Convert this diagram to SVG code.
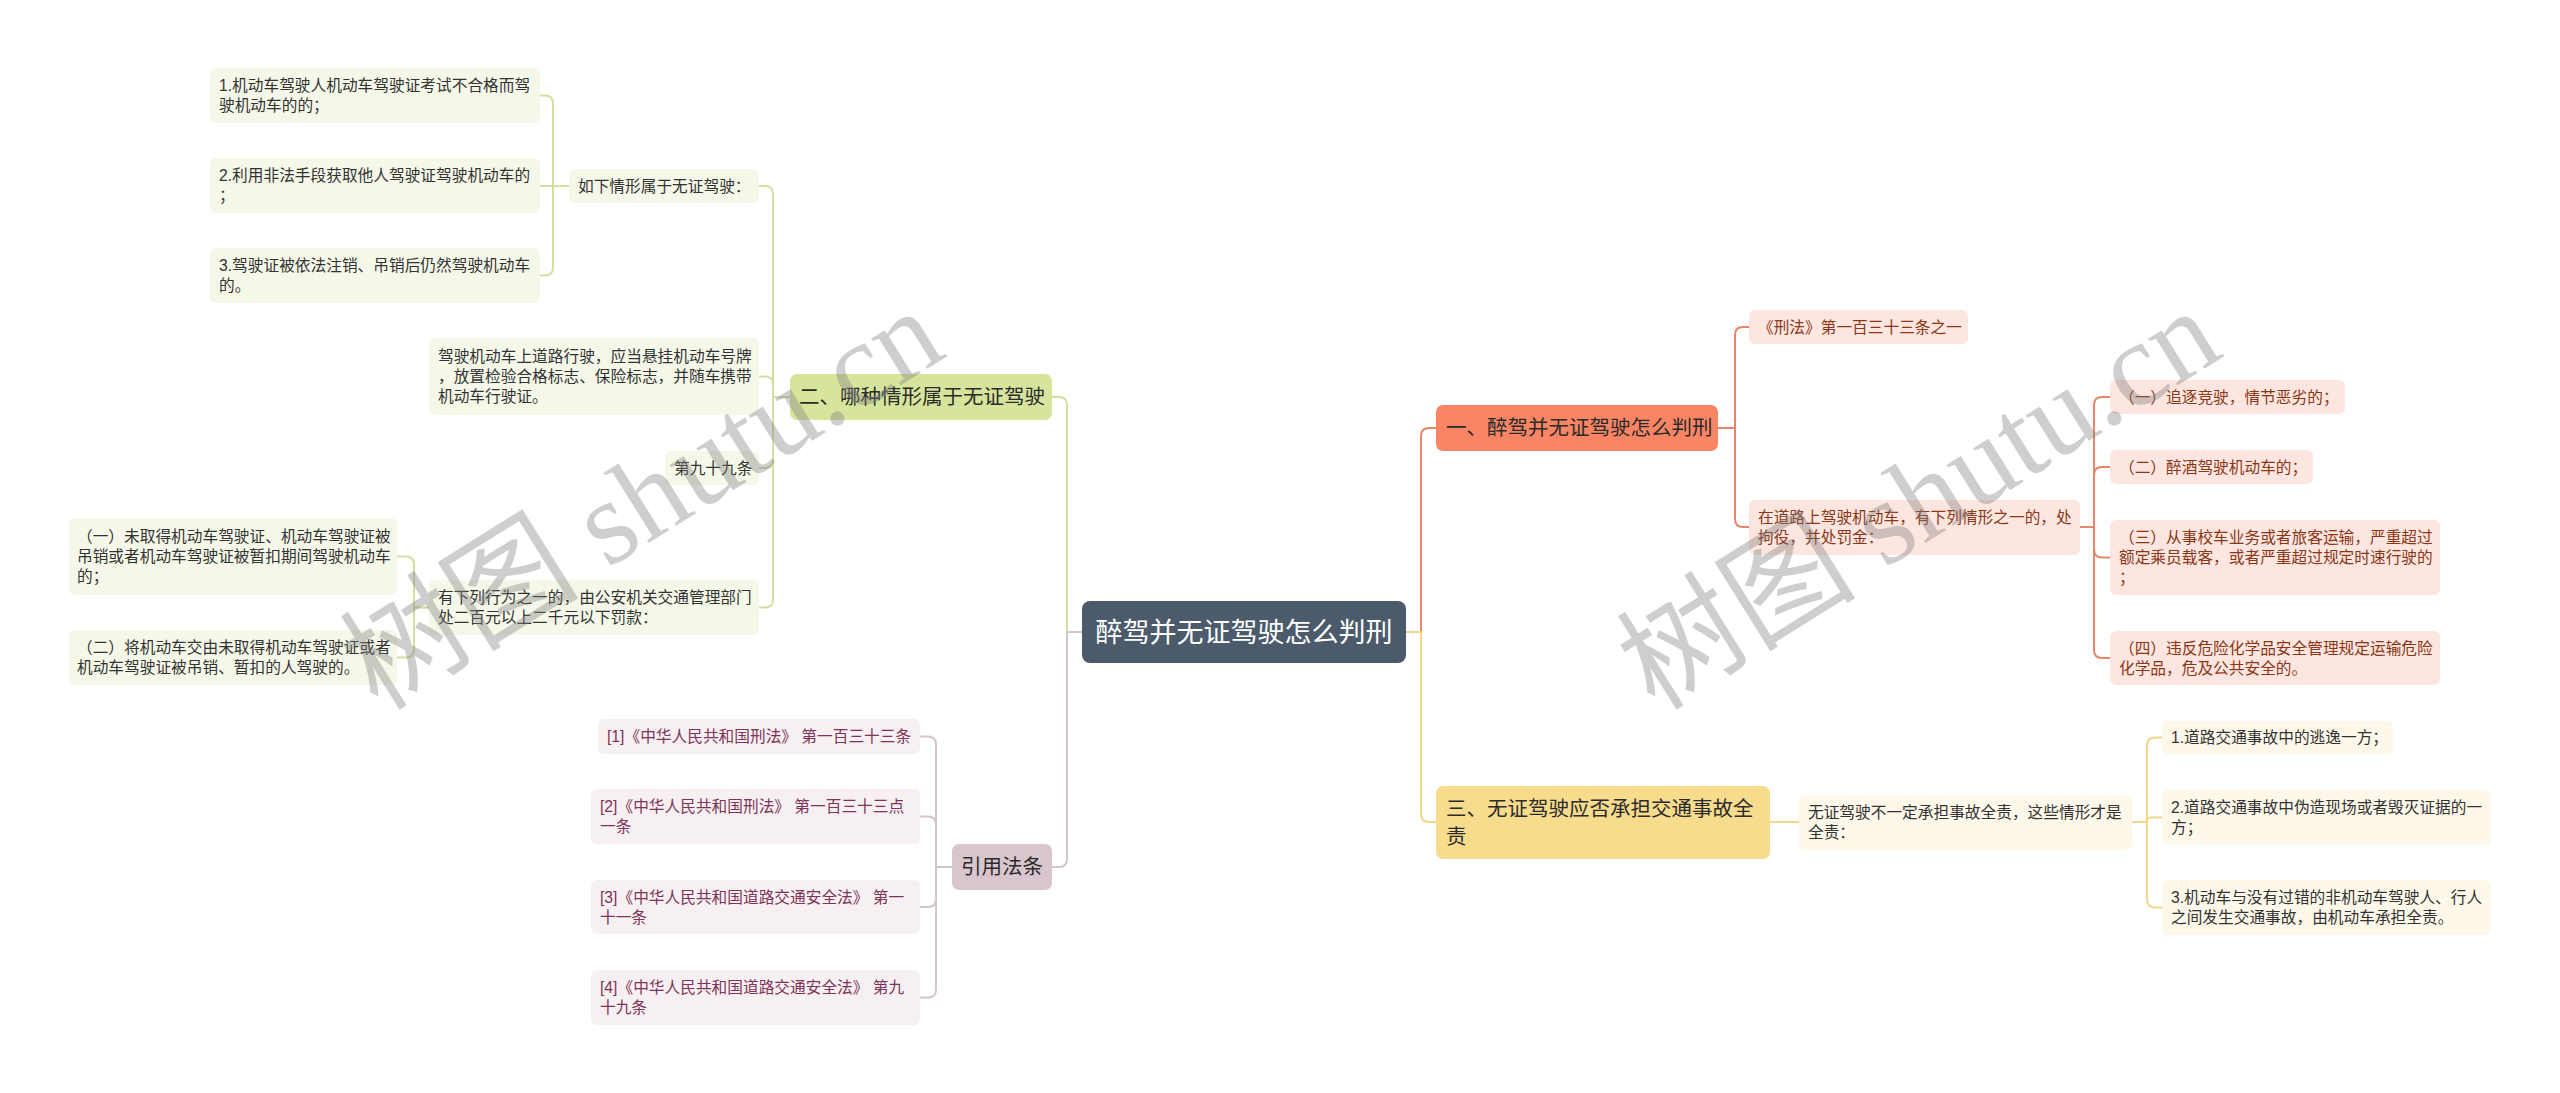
<svg xmlns="http://www.w3.org/2000/svg" width="2560" height="1093" viewBox="0 0 2560 1093">
<style>
text{font-family:"Liberation Sans","Noto Sans CJK SC",sans-serif;}
.leaf{font-size:15.7px;}
.c{fill:none;stroke-width:2;}
.cg{stroke:#d2df9e;} .co{stroke:#e8866a;} .cy{stroke:#f1d68c;} .cm{stroke:#d5c5cc;}
.bg{fill:#f5f8e9;} .bo{fill:#fde6df;} .by{fill:#fdf8ea;} .bm{fill:#f6f0f3;}
.tg{fill:#333333;} .to{fill:#8a3617;} .ty{fill:#333333;} .tm{fill:#7f3356;}
.br{font-size:20.5px;fill:#2b2b2b;}
.wm{fill:#808080;opacity:0.38;font-size:120px;font-family:"Liberation Serif","Noto Sans CJK SC",serif;}
</style>
<rect width="2560" height="1093" fill="#ffffff"/>
<g id="connectors">
<path class="c co" d="M1406,632 H1421 V436 Q1421,428 1429,428 H1436"/>
<path class="c cy" d="M1406,632 H1421 V814 Q1421,822 1429,822 H1436"/>
<path class="c co" d="M1718,428 H1735 V335 Q1735,327 1743,327 H1749"/>
<path class="c co" d="M1718,428 H1735 V519 Q1735,527 1743,527 H1749"/>
<path class="c co" d="M2080,527 H2094 V405 Q2094,397 2102,397 H2110"/>
<path class="c co" d="M2080,527 H2094 V475 Q2094,467 2102,467 H2110"/>
<path class="c co" d="M2080,527 H2094 V549.5 Q2094,557.5 2102,557.5 H2110"/>
<path class="c co" d="M2080,527 H2094 V650 Q2094,658 2102,658 H2110"/>
<path class="c cy" d="M1770,822 H1799"/>
<path class="c cy" d="M2132,822 H2147 V745.5 Q2147,737.5 2155,737.5 H2162"/>
<path class="c cy" d="M2132,822 H2147 V821.5 Q2147,817.5 2151,817.5 H2162"/>
<path class="c cy" d="M2132,822 H2147 V899.5 Q2147,907.5 2155,907.5 H2162"/>
<path class="c cg" d="M1082,632 H1067 V405 Q1067,397 1059,397 H1052"/>
<path class="c cm" d="M1082,632 H1067 V859 Q1067,867 1059,867 H1052"/>
<path class="c cg" d="M790,397 H773 V194 Q773,186 765,186 H759"/>
<path class="c cg" d="M790,397 H773 V384.5 Q773,376.5 765,376.5 H759"/>
<path class="c cg" d="M790,397 H773 V460 Q773,468 765,468 H759"/>
<path class="c cg" d="M790,397 H773 V599.5 Q773,607.5 765,607.5 H759"/>
<path class="c cg" d="M569,186 H553 V103.5 Q553,95.5 545,95.5 H540"/>
<path class="c cg" d="M569,186 H540"/>
<path class="c cg" d="M569,186 H553 V267.5 Q553,275.5 545,275.5 H540"/>
<path class="c cg" d="M429,607.5 H414 V564.5 Q414,556.5 406,556.5 H397"/>
<path class="c cg" d="M429,607.5 H414 V649.5 Q414,657.5 406,657.5 H397"/>
<path class="c cm" d="M952,867 H936 V744.5 Q936,736.5 928,736.5 H920"/>
<path class="c cm" d="M952,867 H936 V824.5 Q936,816.5 928,816.5 H920"/>
<path class="c cm" d="M952,867 H936 V899 Q936,907 928,907 H920"/>
<path class="c cm" d="M952,867 H936 V989.5 Q936,997.5 928,997.5 H920"/>
</g>
<g id="root">
<rect x="1082" y="601" width="324" height="62" rx="8" fill="#4b5b6b"/>
<text x="1244" y="641.7" text-anchor="middle" font-size="27" fill="#ffffff">醉驾并无证驾驶怎么判刑</text>
</g>
<g id="b1">
<rect x="1436" y="405" width="282" height="46" rx="7" fill="#f98565"/>
<text class="br" x="1446" y="435.4">一、醉驾并无证驾驶怎么判刑</text>
</g>
<g id="b1-1">
<rect class="bo" x="1749" y="310" width="219" height="34" rx="6"/>
<text class="leaf to" x="1758" y="332.6">《刑法》第一百三十三条之一</text>
</g>
<g id="b1-2">
<rect class="bo" x="1749" y="500" width="331" height="55" rx="6"/>
<text class="leaf to" x="1758" y="523.1">在道路上驾驶机动车，有下列情形之一的，处</text>
<text class="leaf to" x="1758" y="543.1">拘役，并处罚金：</text>
</g>
<g id="b1-2-1">
<rect class="bo" x="2110" y="380" width="235" height="34" rx="6"/>
<text class="leaf to" x="2119" y="402.6">（一）追逐竞驶，情节恶劣的；</text>
</g>
<g id="b1-2-2">
<rect class="bo" x="2110" y="450" width="203" height="34" rx="6"/>
<text class="leaf to" x="2119" y="472.6">（二）醉酒驾驶机动车的；</text>
</g>
<g id="b1-2-3">
<rect class="bo" x="2110" y="520" width="330" height="75" rx="6"/>
<text class="leaf to" x="2119" y="543.1">（三）从事校车业务或者旅客运输，严重超过</text>
<text class="leaf to" x="2119" y="563.1">额定乘员载客，或者严重超过规定时速行驶的</text>
<text class="leaf to" x="2119" y="583.1">；</text>
</g>
<g id="b1-2-4">
<rect class="bo" x="2110" y="631" width="330" height="54" rx="6"/>
<text class="leaf to" x="2119" y="653.6">（四）违反危险化学品安全管理规定运输危险</text>
<text class="leaf to" x="2119" y="673.6">化学品，危及公共安全的。</text>
</g>
<g id="b3">
<rect x="1436" y="786" width="334" height="73" rx="7" fill="#f7dc8d"/>
<text class="br" x="1446" y="815.9">三、无证驾驶应否承担交通事故全</text>
<text class="br" x="1446" y="843.9">责</text>
</g>
<g id="b3-1">
<rect class="by" x="1799" y="795" width="333" height="55" rx="6"/>
<text class="leaf ty" x="1808" y="818.1">无证驾驶不一定承担事故全责，这些情形才是</text>
<text class="leaf ty" x="1808" y="838.1">全责：</text>
</g>
<g id="b3-1-1">
<rect class="by" x="2162" y="721" width="231" height="33" rx="6"/>
<text class="leaf ty" x="2171" y="743.1">1.道路交通事故中的逃逸一方；</text>
</g>
<g id="b3-1-2">
<rect class="by" x="2162" y="790" width="329" height="55" rx="6"/>
<text class="leaf ty" x="2171" y="813.1">2.道路交通事故中伪造现场或者毁灭证据的一</text>
<text class="leaf ty" x="2171" y="833.1">方；</text>
</g>
<g id="b3-1-3">
<rect class="by" x="2162" y="880" width="329" height="55" rx="6"/>
<text class="leaf ty" x="2171" y="903.1">3.机动车与没有过错的非机动车驾驶人、行人</text>
<text class="leaf ty" x="2171" y="923.1">之间发生交通事故，由机动车承担全责。</text>
</g>
<g id="b2">
<rect x="790" y="374" width="262" height="46" rx="7" fill="#d6e49c"/>
<text class="br" x="799" y="404.4">二、哪种情形属于无证驾驶</text>
</g>
<g id="b2-1">
<rect class="bg" x="569" y="169" width="190" height="34" rx="6"/>
<text class="leaf tg" x="578" y="191.6">如下情形属于无证驾驶：</text>
</g>
<g id="b2-1-1">
<rect class="bg" x="210" y="68" width="330" height="55" rx="6"/>
<text class="leaf tg" x="219" y="91.1">1.机动车驾驶人机动车驾驶证考试不合格而驾</text>
<text class="leaf tg" x="219" y="111.1">驶机动车的的；</text>
</g>
<g id="b2-1-2">
<rect class="bg" x="210" y="158" width="330" height="55" rx="6"/>
<text class="leaf tg" x="219" y="181.1">2.利用非法手段获取他人驾驶证驾驶机动车的</text>
<text class="leaf tg" x="219" y="201.1">；</text>
</g>
<g id="b2-1-3">
<rect class="bg" x="210" y="248" width="330" height="55" rx="6"/>
<text class="leaf tg" x="219" y="271.1">3.驾驶证被依法注销、吊销后仍然驾驶机动车</text>
<text class="leaf tg" x="219" y="291.1">的。</text>
</g>
<g id="b2-2">
<rect class="bg" x="429" y="338" width="330" height="77" rx="6"/>
<text class="leaf tg" x="438" y="362.1">驾驶机动车上道路行驶，应当悬挂机动车号牌</text>
<text class="leaf tg" x="438" y="382.1">，放置检验合格标志、保险标志，并随车携带</text>
<text class="leaf tg" x="438" y="402.1">机动车行驶证。</text>
</g>
<g id="b2-3">
<rect class="bg" x="665" y="451" width="94" height="34" rx="6"/>
<text class="leaf tg" x="674" y="473.6">第九十九条</text>
</g>
<g id="b2-4">
<rect class="bg" x="429" y="580" width="330" height="55" rx="6"/>
<text class="leaf tg" x="438" y="603.1">有下列行为之一的，由公安机关交通管理部门</text>
<text class="leaf tg" x="438" y="623.1">处二百元以上二千元以下罚款：</text>
</g>
<g id="b2-4-1">
<rect class="bg" x="69" y="518" width="328" height="77" rx="6"/>
<text class="leaf tg" x="77" y="542.1">（一）未取得机动车驾驶证、机动车驾驶证被</text>
<text class="leaf tg" x="77" y="562.1">吊销或者机动车驾驶证被暂扣期间驾驶机动车</text>
<text class="leaf tg" x="77" y="582.1">的；</text>
</g>
<g id="b2-4-2">
<rect class="bg" x="69" y="630" width="328" height="55" rx="6"/>
<text class="leaf tg" x="77" y="653.1">（二）将机动车交由未取得机动车驾驶证或者</text>
<text class="leaf tg" x="77" y="673.1">机动车驾驶证被吊销、暂扣的人驾驶的。</text>
</g>
<g id="b4">
<rect x="952" y="844" width="100" height="46" rx="7" fill="#d9c5cd"/>
<text class="br" x="1002" y="874.4" text-anchor="middle">引用法条</text>
</g>
<g id="b4-1">
<rect class="bm" x="598" y="719" width="322" height="35" rx="6"/>
<text class="leaf tm" x="607" y="742.1">[1]《中华人民共和国刑法》 第一百三十三条</text>
</g>
<g id="b4-2">
<rect class="bm" x="591" y="789" width="329" height="55" rx="6"/>
<text class="leaf tm" x="600" y="812.1">[2]《中华人民共和国刑法》 第一百三十三点</text>
<text class="leaf tm" x="600" y="832.1">一条</text>
</g>
<g id="b4-3">
<rect class="bm" x="591" y="880" width="329" height="54" rx="6"/>
<text class="leaf tm" x="600" y="902.6">[3]《中华人民共和国道路交通安全法》 第一</text>
<text class="leaf tm" x="600" y="922.6">十一条</text>
</g>
<g id="b4-4">
<rect class="bm" x="591" y="970" width="329" height="55" rx="6"/>
<text class="leaf tm" x="600" y="993.1">[4]《中华人民共和国道路交通安全法》 第九</text>
<text class="leaf tm" x="600" y="1013.1">十九条</text>
</g>
<g id="watermark">
<text class="wm" transform="translate(378,712) rotate(-32)">树图 shutu.cn</text>
<text class="wm" transform="translate(1655,712) rotate(-32)">树图 shutu.cn</text>
</g>
</svg>
